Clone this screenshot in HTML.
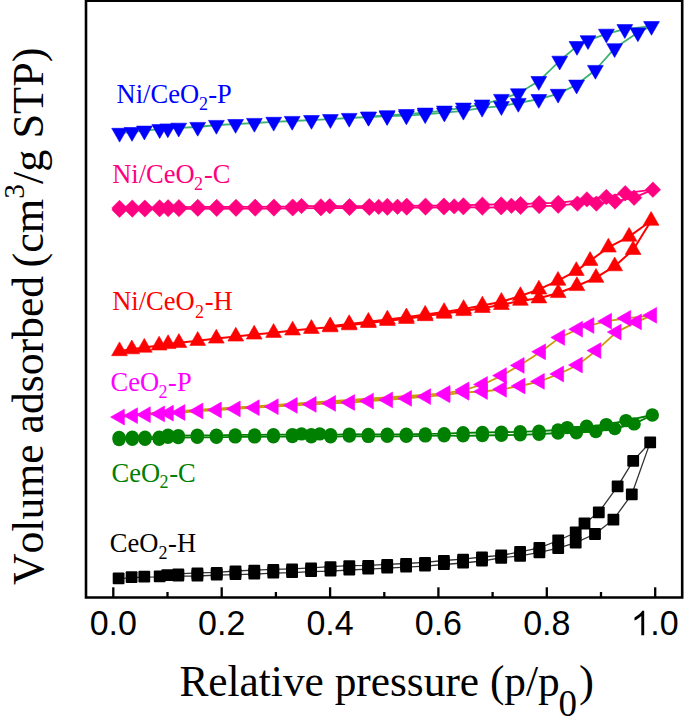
<!DOCTYPE html>
<html><head><meta charset="utf-8"><title>N2 isotherms</title><style>html,body{margin:0;padding:0;background:#fff;width:685px;height:726px;overflow:hidden}svg{display:block}</style></head><body><svg width="685" height="726" viewBox="0 0 685 726"><rect width="685" height="726" fill="#fff"/><polyline points="119.6,132.9 132,132.1 144.4,130.7 159.7,129.2 167.8,128.5 178.7,127.8 197.7,127 216.4,125 235.6,124.1 254.4,123 273.7,121.9 292.2,121 311.5,120.1 330.4,119.2 349.2,118 368.5,117 387.1,116.2 406.4,115.6 425.2,114.4 444.4,112.7 463.4,110.9 482.1,107.9 501.4,106.2 518.3,103 538.8,99.1 558.1,93.9 576.6,84.7 595.4,70 614.6,48.3 637.9,32.5 651.5,26.1" fill="none" stroke="#3cb371" stroke-width="1.8" stroke-linejoin="round"/><polyline points="651.5,26.1 624.8,29.2 606.4,33.8 588,40.3 577,46.1 559.7,60.8 538.8,81.1 518.3,93.4 501.4,99 482.1,104.6 463.4,107.7 444.4,110.7 425.2,112.7 406.4,114.1 387.1,115.3 368.5,116.6" fill="none" stroke="#3cb371" stroke-width="1.8" stroke-linejoin="round"/><polyline points="119.5,209.7 132.3,209.5 144.8,209.4 159.6,209.2 168.1,209.1 178.9,209 197.8,208.7 216.7,208.8 236,208.7 255.2,208.6 273.9,208.5 292.7,208.4 320.9,208.2 349.5,208 369.3,207.9 387.3,207.7 406.7,207.6 425.5,207.5 443.9,207.4 463.4,207.2 482.4,207.5 501.2,207.3 520.6,206.9 539.2,206.1 558.2,205.7 577.4,203.6 596.4,203.6 615,201.5 634.1,197.7 652.9,189.7" fill="none" stroke="#ff0080" stroke-width="1.8" stroke-linejoin="round"/><polyline points="652.9,189.7 625.2,193.2 606.3,197 586.9,199.4 558.2,202.9 539.2,203.3 520.6,204.1 511.4,205.8 501.2,204.5 482.4,204.7 463.4,205.4 454.2,206.4 443.9,205.6 425.5,205.7 406.7,205.8 397.5,206.8 387.3,205.9 378.7,206.9 369.3,206.1 349.5,206.2 329.7,206.2 320.9,206.4 301.5,206 292.7,206.6 273.9,206.7 255.2,206.8 236,206.9 216.7,207 197.8,206.9 178.9,207.2 168.1,207.3 159.6,207.4 144.8,207.6 132.3,207.7 119.5,207.9" fill="none" stroke="#ff0080" stroke-width="1.8" stroke-linejoin="round"/><polyline points="119.5,351.1 131.8,349.2 144.3,347.6 159.1,345.4 168.1,344 178.9,342.8 197.7,340.8 216.3,338.5 235.8,336.5 254.2,334.5 273.6,332.8 292.6,330.4 311.4,328.8 330.2,327.2 349.2,325.2 368.4,322.9 387.4,320.8 406.4,318.8 425.2,316.1 444.1,313.6 463.6,311 482.4,307.9 501.4,304.9 520.4,300.7 538.9,298.3 558.2,293 576.9,286 596,277.7 614.7,266.2 633.1,249.9 651.1,220.7" fill="none" stroke="#ff0000" stroke-width="2" stroke-linejoin="round"/><polyline points="651.1,220.7 629.1,236.6 608.4,247.4 590.1,260.8 576.3,270.9 558,280.7 538.9,289.4 520.4,296 501.4,301.7 482.4,305.4 463.6,308.9 444.1,311.9 425.2,314.6 406.4,317.2 387.4,319.4 368.4,321.7 349.2,324 330.2,326.2" fill="none" stroke="#ff0000" stroke-width="2" stroke-linejoin="round"/><polyline points="119.8,417.1 132.9,415.7 145.7,414.7 159.9,413.9 168.7,413.2 180.3,412.5 198.3,411 216.7,410 235.6,408.9 254.6,407.7 273.6,406.7 292.6,405.4 311.5,404.4 330.9,403.4 350,402.5 368.8,401.1 388,399.9 406.9,398.4 426,396.6 445.3,394.8 464.3,392.3 482.8,391.5 501.8,389.3 520.4,386 539.7,381.4 559,374 577.7,365 596.3,350.6 616.5,332.1 636.8,321.9 652,315.3" fill="none" stroke="#cc9a06" stroke-width="1.8" stroke-linejoin="round"/><polyline points="652,315.3 626.1,318.3 606.9,321.2 589.3,325.5 577.9,329.2 560,337.4 540.9,351.8 519.5,365.4 501.8,375.6 482.8,384.5 464.3,389.9 445.3,393.4 119.8,415.7 132.9,414.3 145.7,413.3 159.9,412.5 168.7,411.8 180.3,411.1 198.3,409.6 216.7,408.6 235.6,407.5 254.6,406.3 273.6,405.3 292.6,404 311.5,403 330.9,402 350,401.1 368.8,399.7 388,398.5 406.9,397 426,395.2" fill="none" stroke="#cc9a06" stroke-width="1.8" stroke-linejoin="round"/><polyline points="119.1,439.5 132.3,439.2 145,439.2 159.2,439.2 168,437.3 178.3,437.6 197.3,437.3 216.4,437.3 235.2,436.9 254.6,436.9 273.4,436.7 292.4,436.6 311.3,436.7 330.6,436.8 349.3,436.1 368.3,436.4 387.3,436.3 406.3,436.3 425.3,435.9 444.1,435.7 463.1,435.8 482.4,435.5 501.4,435.2 520.2,434.8 539,434.2 558,433 576.4,432.7 595.8,431.5 614.8,428.5 634.1,423.9 652.3,415" fill="none" stroke="#008000" stroke-width="1.8" stroke-linejoin="round"/><polyline points="652.3,415 626,420.6 606.3,424.6 586.6,426.3 567.2,427.6 558,430 539,431.2 520.2,431.8 501.4,432.2 482.4,432.5 463.1,432.8 444.1,433.7 425.3,433.9 406.3,434.3 387.3,434.3 368.3,434.4 349.3,434.1 330.6,434.8 319.7,433.9 311.3,434.7 301.5,433.9 292.4,434.6 273.4,434.7 254.6,434.9 235.2,434.9 216.4,435.3 197.3,435.3 178.3,435.6 168,435.3 159.2,437.2 145,437.2 132.3,437.2 119.1,437.5" fill="none" stroke="#008000" stroke-width="1.8" stroke-linejoin="round"/><polyline points="118.6,578.8 131.6,577.7 144.3,577.1 159.7,576.8 167.3,575.7 178.3,576.1 197.4,576 216.7,575.1 235.5,574.7 254.3,574.1 273.3,573.1 292.1,572.7 311.1,571.7 330.5,571.1 349.3,570 368.2,569.2 387.2,568.2 406.1,567.2 425,566.2 443.9,564.5 463.1,563 482,561 501.2,557.8 520.1,555.8 539.4,552.3 558.2,548.2 575.7,542.7 595,534 613.4,519.6 631.8,494.3 650.2,442.4" fill="none" stroke="#333333" stroke-width="1.3" stroke-linejoin="round"/><polyline points="650.2,442.4 633.2,460.8 617.6,486.4 598.8,512.3 584.5,523.5 575.7,532.5 558.2,540.5 539.4,547.8 520.1,551.9 501.2,555.3 482,557 463.1,559.2 443.9,560.5 425,562.3 406.1,563.5 387.2,564.3 368.2,565.3 349.3,565.7 330.5,566.7 311.1,567.8 292.1,568.8 273.3,569.4 254.3,570.2 235.5,571 216.7,572.4 197.4,572.9 178.3,573.8" fill="none" stroke="#333333" stroke-width="1.3" stroke-linejoin="round"/><g fill="#0000ff" stroke="#0000ff" stroke-width="0.6" stroke-linejoin="round"><polygon points="111.7,128.3 127.5,128.3 119.6,142.1"/><polygon points="124.1,127.5 139.9,127.5 132,141.3"/><polygon points="136.5,126.1 152.3,126.1 144.4,139.9"/><polygon points="151.8,124.6 167.6,124.6 159.7,138.4"/><polygon points="159.9,123.9 175.7,123.9 167.8,137.7"/><polygon points="170.8,123.2 186.6,123.2 178.7,137"/><polygon points="189.8,122.4 205.6,122.4 197.7,136.2"/><polygon points="208.5,120.4 224.3,120.4 216.4,134.2"/><polygon points="227.7,119.5 243.5,119.5 235.6,133.3"/><polygon points="246.5,118.4 262.3,118.4 254.4,132.2"/><polygon points="265.8,117.3 281.6,117.3 273.7,131.1"/><polygon points="284.3,116.4 300.1,116.4 292.2,130.2"/><polygon points="303.6,115.5 319.4,115.5 311.5,129.3"/><polygon points="322.5,114.6 338.3,114.6 330.4,128.4"/><polygon points="341.3,113.4 357.1,113.4 349.2,127.2"/><polygon points="360.6,112.4 376.4,112.4 368.5,126.2"/><polygon points="379.2,111.6 395,111.6 387.1,125.4"/><polygon points="398.5,111 414.3,111 406.4,124.8"/><polygon points="417.3,109.8 433.1,109.8 425.2,123.6"/><polygon points="436.5,108.1 452.3,108.1 444.4,121.9"/><polygon points="455.5,106.3 471.3,106.3 463.4,120.1"/><polygon points="474.2,103.3 490,103.3 482.1,117.1"/><polygon points="493.5,101.6 509.3,101.6 501.4,115.4"/><polygon points="510.4,98.4 526.2,98.4 518.3,112.2"/><polygon points="530.9,94.5 546.7,94.5 538.8,108.3"/><polygon points="550.2,89.3 566,89.3 558.1,103.1"/><polygon points="568.7,80.1 584.5,80.1 576.6,93.9"/><polygon points="587.5,65.4 603.3,65.4 595.4,79.2"/><polygon points="606.7,43.7 622.5,43.7 614.6,57.5"/><polygon points="630,27.9 645.8,27.9 637.9,41.7"/><polygon points="643.6,21.5 659.4,21.5 651.5,35.3"/><polygon points="616.9,24.6 632.7,24.6 624.8,38.4"/><polygon points="598.5,29.2 614.3,29.2 606.4,43"/><polygon points="580.1,35.7 595.9,35.7 588,49.5"/><polygon points="569.1,41.5 584.9,41.5 577,55.3"/><polygon points="551.8,56.2 567.6,56.2 559.7,70"/><polygon points="530.9,76.5 546.7,76.5 538.8,90.3"/><polygon points="510.4,88.8 526.2,88.8 518.3,102.6"/><polygon points="493.5,94.4 509.3,94.4 501.4,108.2"/><polygon points="474.2,100 490,100 482.1,113.8"/><polygon points="455.5,103.1 471.3,103.1 463.4,116.9"/><polygon points="436.5,106.1 452.3,106.1 444.4,119.9"/><polygon points="417.3,108.1 433.1,108.1 425.2,121.9"/><polygon points="398.5,109.5 414.3,109.5 406.4,123.3"/><polygon points="379.2,110.7 395,110.7 387.1,124.5"/><polygon points="360.6,112 376.4,112 368.5,125.8"/></g><g fill="#ff0080" stroke="#ff0080" stroke-width="0.6" stroke-linejoin="round"><polygon points="119.5,202 127.2,209.7 119.5,217.4 111.8,209.7"/><polygon points="132.3,201.8 140,209.5 132.3,217.2 124.6,209.5"/><polygon points="144.8,201.7 152.5,209.4 144.8,217.1 137.1,209.4"/><polygon points="159.6,201.5 167.3,209.2 159.6,216.9 151.9,209.2"/><polygon points="168.1,201.4 175.8,209.1 168.1,216.8 160.4,209.1"/><polygon points="178.9,201.3 186.6,209 178.9,216.7 171.2,209"/><polygon points="197.8,201 205.5,208.7 197.8,216.4 190.1,208.7"/><polygon points="216.7,201.1 224.4,208.8 216.7,216.5 209,208.8"/><polygon points="236,201 243.7,208.7 236,216.4 228.3,208.7"/><polygon points="255.2,200.9 262.9,208.6 255.2,216.3 247.5,208.6"/><polygon points="273.9,200.8 281.6,208.5 273.9,216.2 266.2,208.5"/><polygon points="292.7,200.7 300.4,208.4 292.7,216.1 285,208.4"/><polygon points="320.9,200.5 328.6,208.2 320.9,215.9 313.2,208.2"/><polygon points="349.5,200.3 357.2,208 349.5,215.7 341.8,208"/><polygon points="369.3,200.2 377,207.9 369.3,215.6 361.6,207.9"/><polygon points="387.3,200 395,207.7 387.3,215.4 379.6,207.7"/><polygon points="406.7,199.9 414.4,207.6 406.7,215.3 399,207.6"/><polygon points="425.5,199.8 433.2,207.5 425.5,215.2 417.8,207.5"/><polygon points="443.9,199.7 451.6,207.4 443.9,215.1 436.2,207.4"/><polygon points="463.4,199.5 471.1,207.2 463.4,214.9 455.7,207.2"/><polygon points="482.4,199.8 490.1,207.5 482.4,215.2 474.7,207.5"/><polygon points="501.2,199.6 508.9,207.3 501.2,215 493.5,207.3"/><polygon points="520.6,199.2 528.3,206.9 520.6,214.6 512.9,206.9"/><polygon points="539.2,198.4 546.9,206.1 539.2,213.8 531.5,206.1"/><polygon points="558.2,198 565.9,205.7 558.2,213.4 550.5,205.7"/><polygon points="577.4,195.9 585.1,203.6 577.4,211.3 569.7,203.6"/><polygon points="596.4,195.9 604.1,203.6 596.4,211.3 588.7,203.6"/><polygon points="615,193.8 622.7,201.5 615,209.2 607.3,201.5"/><polygon points="634.1,190 641.8,197.7 634.1,205.4 626.4,197.7"/><polygon points="652.9,182 660.6,189.7 652.9,197.4 645.2,189.7"/><polygon points="625.2,185.5 632.9,193.2 625.2,200.9 617.5,193.2"/><polygon points="606.3,189.3 614,197 606.3,204.7 598.6,197"/><polygon points="586.9,191.7 594.6,199.4 586.9,207.1 579.2,199.4"/><polygon points="558.2,195.2 565.9,202.9 558.2,210.6 550.5,202.9"/><polygon points="539.2,195.6 546.9,203.3 539.2,211 531.5,203.3"/><polygon points="520.6,196.4 528.3,204.1 520.6,211.8 512.9,204.1"/><polygon points="511.4,198.1 519.1,205.8 511.4,213.5 503.7,205.8"/><polygon points="501.2,196.8 508.9,204.5 501.2,212.2 493.5,204.5"/><polygon points="482.4,197 490.1,204.7 482.4,212.4 474.7,204.7"/><polygon points="463.4,197.7 471.1,205.4 463.4,213.1 455.7,205.4"/><polygon points="454.2,198.7 461.9,206.4 454.2,214.1 446.5,206.4"/><polygon points="443.9,197.9 451.6,205.6 443.9,213.3 436.2,205.6"/><polygon points="425.5,198 433.2,205.7 425.5,213.4 417.8,205.7"/><polygon points="406.7,198.1 414.4,205.8 406.7,213.5 399,205.8"/><polygon points="397.5,199.1 405.2,206.8 397.5,214.5 389.8,206.8"/><polygon points="387.3,198.2 395,205.9 387.3,213.6 379.6,205.9"/><polygon points="378.7,199.2 386.4,206.9 378.7,214.6 371,206.9"/><polygon points="369.3,198.4 377,206.1 369.3,213.8 361.6,206.1"/><polygon points="349.5,198.5 357.2,206.2 349.5,213.9 341.8,206.2"/><polygon points="329.7,198.5 337.4,206.2 329.7,213.9 322,206.2"/><polygon points="320.9,198.7 328.6,206.4 320.9,214.1 313.2,206.4"/><polygon points="301.5,198.3 309.2,206 301.5,213.7 293.8,206"/><polygon points="292.7,198.9 300.4,206.6 292.7,214.3 285,206.6"/><polygon points="273.9,199 281.6,206.7 273.9,214.4 266.2,206.7"/><polygon points="255.2,199.1 262.9,206.8 255.2,214.5 247.5,206.8"/><polygon points="236,199.2 243.7,206.9 236,214.6 228.3,206.9"/><polygon points="216.7,199.3 224.4,207 216.7,214.7 209,207"/><polygon points="197.8,199.2 205.5,206.9 197.8,214.6 190.1,206.9"/><polygon points="178.9,199.5 186.6,207.2 178.9,214.9 171.2,207.2"/><polygon points="168.1,199.6 175.8,207.3 168.1,215 160.4,207.3"/><polygon points="159.6,199.7 167.3,207.4 159.6,215.1 151.9,207.4"/><polygon points="144.8,199.9 152.5,207.6 144.8,215.3 137.1,207.6"/><polygon points="132.3,200 140,207.7 132.3,215.4 124.6,207.7"/><polygon points="119.5,200.2 127.2,207.9 119.5,215.6 111.8,207.9"/></g><g fill="#ff0000" stroke="#ff0000" stroke-width="0.6" stroke-linejoin="round"><polygon points="111.6,355.7 127.4,355.7 119.5,341.9"/><polygon points="123.9,353.8 139.7,353.8 131.8,340"/><polygon points="136.4,352.2 152.2,352.2 144.3,338.4"/><polygon points="151.2,350 167,350 159.1,336.2"/><polygon points="160.2,348.6 176,348.6 168.1,334.8"/><polygon points="171,347.4 186.8,347.4 178.9,333.6"/><polygon points="189.8,345.4 205.6,345.4 197.7,331.6"/><polygon points="208.4,343.1 224.2,343.1 216.3,329.3"/><polygon points="227.9,341.1 243.7,341.1 235.8,327.3"/><polygon points="246.3,339.1 262.1,339.1 254.2,325.3"/><polygon points="265.7,337.4 281.5,337.4 273.6,323.6"/><polygon points="284.7,335 300.5,335 292.6,321.2"/><polygon points="303.5,333.4 319.3,333.4 311.4,319.6"/><polygon points="322.3,331.8 338.1,331.8 330.2,318"/><polygon points="341.3,329.8 357.1,329.8 349.2,316"/><polygon points="360.5,327.5 376.3,327.5 368.4,313.7"/><polygon points="379.5,325.4 395.3,325.4 387.4,311.6"/><polygon points="398.5,323.4 414.3,323.4 406.4,309.6"/><polygon points="417.3,320.7 433.1,320.7 425.2,306.9"/><polygon points="436.2,318.2 452,318.2 444.1,304.4"/><polygon points="455.7,315.6 471.5,315.6 463.6,301.8"/><polygon points="474.5,312.5 490.3,312.5 482.4,298.7"/><polygon points="493.5,309.5 509.3,309.5 501.4,295.7"/><polygon points="512.5,305.3 528.3,305.3 520.4,291.5"/><polygon points="531,302.9 546.8,302.9 538.9,289.1"/><polygon points="550.3,297.6 566.1,297.6 558.2,283.8"/><polygon points="569,290.6 584.8,290.6 576.9,276.8"/><polygon points="588.1,282.3 603.9,282.3 596,268.5"/><polygon points="606.8,270.8 622.6,270.8 614.7,257"/><polygon points="625.2,254.5 641,254.5 633.1,240.7"/><polygon points="643.2,225.3 659,225.3 651.1,211.5"/><polygon points="621.2,241.2 637,241.2 629.1,227.4"/><polygon points="600.5,252 616.3,252 608.4,238.2"/><polygon points="582.2,265.4 598,265.4 590.1,251.6"/><polygon points="568.4,275.5 584.2,275.5 576.3,261.7"/><polygon points="550.1,285.3 565.9,285.3 558,271.5"/><polygon points="531,294 546.8,294 538.9,280.2"/><polygon points="512.5,300.6 528.3,300.6 520.4,286.8"/><polygon points="493.5,306.3 509.3,306.3 501.4,292.5"/><polygon points="474.5,310 490.3,310 482.4,296.2"/><polygon points="455.7,313.5 471.5,313.5 463.6,299.7"/><polygon points="436.2,316.5 452,316.5 444.1,302.7"/><polygon points="417.3,319.2 433.1,319.2 425.2,305.4"/><polygon points="398.5,321.8 414.3,321.8 406.4,308"/><polygon points="379.5,324 395.3,324 387.4,310.2"/><polygon points="360.5,326.3 376.3,326.3 368.4,312.5"/><polygon points="341.3,328.6 357.1,328.6 349.2,314.8"/><polygon points="322.3,330.8 338.1,330.8 330.2,317"/></g><g fill="#ff00ff" stroke="#ff00ff" stroke-width="0.6" stroke-linejoin="round"><polygon points="124.4,409.2 124.4,425 110.6,417.1"/><polygon points="137.5,407.8 137.5,423.6 123.7,415.7"/><polygon points="150.3,406.8 150.3,422.6 136.5,414.7"/><polygon points="164.5,406 164.5,421.8 150.7,413.9"/><polygon points="173.3,405.3 173.3,421.1 159.5,413.2"/><polygon points="184.9,404.6 184.9,420.4 171.1,412.5"/><polygon points="202.9,403.1 202.9,418.9 189.1,411"/><polygon points="221.3,402.1 221.3,417.9 207.5,410"/><polygon points="240.2,401 240.2,416.8 226.4,408.9"/><polygon points="259.2,399.8 259.2,415.6 245.4,407.7"/><polygon points="278.2,398.8 278.2,414.6 264.4,406.7"/><polygon points="297.2,397.5 297.2,413.3 283.4,405.4"/><polygon points="316.1,396.5 316.1,412.3 302.3,404.4"/><polygon points="335.5,395.5 335.5,411.3 321.7,403.4"/><polygon points="354.6,394.6 354.6,410.4 340.8,402.5"/><polygon points="373.4,393.2 373.4,409 359.6,401.1"/><polygon points="392.6,392 392.6,407.8 378.8,399.9"/><polygon points="411.5,390.5 411.5,406.3 397.7,398.4"/><polygon points="430.6,388.7 430.6,404.5 416.8,396.6"/><polygon points="449.9,386.9 449.9,402.7 436.1,394.8"/><polygon points="468.9,384.4 468.9,400.2 455.1,392.3"/><polygon points="487.4,383.6 487.4,399.4 473.6,391.5"/><polygon points="506.4,381.4 506.4,397.2 492.6,389.3"/><polygon points="525,378.1 525,393.9 511.2,386"/><polygon points="544.3,373.5 544.3,389.3 530.5,381.4"/><polygon points="563.6,366.1 563.6,381.9 549.8,374"/><polygon points="582.3,357.1 582.3,372.9 568.5,365"/><polygon points="600.9,342.7 600.9,358.5 587.1,350.6"/><polygon points="621.1,324.2 621.1,340 607.3,332.1"/><polygon points="641.4,314 641.4,329.8 627.6,321.9"/><polygon points="656.6,307.4 656.6,323.2 642.8,315.3"/><polygon points="630.7,310.4 630.7,326.2 616.9,318.3"/><polygon points="611.5,313.3 611.5,329.1 597.7,321.2"/><polygon points="593.9,317.6 593.9,333.4 580.1,325.5"/><polygon points="582.5,321.3 582.5,337.1 568.7,329.2"/><polygon points="564.6,329.5 564.6,345.3 550.8,337.4"/><polygon points="545.5,343.9 545.5,359.7 531.7,351.8"/><polygon points="524.1,357.5 524.1,373.3 510.3,365.4"/><polygon points="506.4,367.7 506.4,383.5 492.6,375.6"/><polygon points="487.4,376.6 487.4,392.4 473.6,384.5"/><polygon points="468.9,382 468.9,397.8 455.1,389.9"/><polygon points="449.9,385.5 449.9,401.3 436.1,393.4"/></g><g fill="#008000"><circle cx="119.1" cy="439.5" r="6.7"/><circle cx="132.3" cy="439.2" r="6.7"/><circle cx="145" cy="439.2" r="6.7"/><circle cx="159.2" cy="439.2" r="6.7"/><circle cx="168" cy="437.3" r="6.7"/><circle cx="178.3" cy="437.6" r="6.7"/><circle cx="197.3" cy="437.3" r="6.7"/><circle cx="216.4" cy="437.3" r="6.7"/><circle cx="235.2" cy="436.9" r="6.7"/><circle cx="254.6" cy="436.9" r="6.7"/><circle cx="273.4" cy="436.7" r="6.7"/><circle cx="292.4" cy="436.6" r="6.7"/><circle cx="311.3" cy="436.7" r="6.7"/><circle cx="330.6" cy="436.8" r="6.7"/><circle cx="349.3" cy="436.1" r="6.7"/><circle cx="368.3" cy="436.4" r="6.7"/><circle cx="387.3" cy="436.3" r="6.7"/><circle cx="406.3" cy="436.3" r="6.7"/><circle cx="425.3" cy="435.9" r="6.7"/><circle cx="444.1" cy="435.7" r="6.7"/><circle cx="463.1" cy="435.8" r="6.7"/><circle cx="482.4" cy="435.5" r="6.7"/><circle cx="501.4" cy="435.2" r="6.7"/><circle cx="520.2" cy="434.8" r="6.7"/><circle cx="539" cy="434.2" r="6.7"/><circle cx="558" cy="433" r="6.7"/><circle cx="576.4" cy="432.7" r="6.7"/><circle cx="595.8" cy="431.5" r="6.7"/><circle cx="614.8" cy="428.5" r="6.7"/><circle cx="634.1" cy="423.9" r="6.7"/><circle cx="652.3" cy="415" r="6.7"/><circle cx="626" cy="420.6" r="6.7"/><circle cx="606.3" cy="424.6" r="6.7"/><circle cx="586.6" cy="426.3" r="6.7"/><circle cx="567.2" cy="427.6" r="6.7"/><circle cx="558" cy="430" r="6.7"/><circle cx="539" cy="431.2" r="6.7"/><circle cx="520.2" cy="431.8" r="6.7"/><circle cx="501.4" cy="432.2" r="6.7"/><circle cx="482.4" cy="432.5" r="6.7"/><circle cx="463.1" cy="432.8" r="6.7"/><circle cx="444.1" cy="433.7" r="6.7"/><circle cx="425.3" cy="433.9" r="6.7"/><circle cx="406.3" cy="434.3" r="6.7"/><circle cx="387.3" cy="434.3" r="6.7"/><circle cx="368.3" cy="434.4" r="6.7"/><circle cx="349.3" cy="434.1" r="6.7"/><circle cx="330.6" cy="434.8" r="6.7"/><circle cx="319.7" cy="433.9" r="6.7"/><circle cx="311.3" cy="434.7" r="6.7"/><circle cx="301.5" cy="433.9" r="6.7"/><circle cx="292.4" cy="434.6" r="6.7"/><circle cx="273.4" cy="434.7" r="6.7"/><circle cx="254.6" cy="434.9" r="6.7"/><circle cx="235.2" cy="434.9" r="6.7"/><circle cx="216.4" cy="435.3" r="6.7"/><circle cx="197.3" cy="435.3" r="6.7"/><circle cx="178.3" cy="435.6" r="6.7"/><circle cx="168" cy="435.3" r="6.7"/><circle cx="159.2" cy="437.2" r="6.7"/><circle cx="145" cy="437.2" r="6.7"/><circle cx="132.3" cy="437.2" r="6.7"/><circle cx="119.1" cy="437.5" r="6.7"/></g><g fill="#000"><rect x="112.7" y="572.4" width="11.8" height="11.8" rx="1"/><rect x="125.7" y="571.3" width="11.8" height="11.8" rx="1"/><rect x="138.4" y="570.7" width="11.8" height="11.8" rx="1"/><rect x="153.8" y="570.4" width="11.8" height="11.8" rx="1"/><rect x="161.4" y="569.3" width="11.8" height="11.8" rx="1"/><rect x="172.4" y="569.7" width="11.8" height="11.8" rx="1"/><rect x="191.5" y="569.6" width="11.8" height="11.8" rx="1"/><rect x="210.8" y="568.7" width="11.8" height="11.8" rx="1"/><rect x="229.6" y="568.3" width="11.8" height="11.8" rx="1"/><rect x="248.4" y="567.7" width="11.8" height="11.8" rx="1"/><rect x="267.4" y="566.7" width="11.8" height="11.8" rx="1"/><rect x="286.2" y="566.3" width="11.8" height="11.8" rx="1"/><rect x="305.2" y="565.3" width="11.8" height="11.8" rx="1"/><rect x="324.6" y="564.7" width="11.8" height="11.8" rx="1"/><rect x="343.4" y="563.6" width="11.8" height="11.8" rx="1"/><rect x="362.3" y="562.8" width="11.8" height="11.8" rx="1"/><rect x="381.3" y="561.8" width="11.8" height="11.8" rx="1"/><rect x="400.2" y="560.8" width="11.8" height="11.8" rx="1"/><rect x="419.1" y="559.8" width="11.8" height="11.8" rx="1"/><rect x="438" y="558.1" width="11.8" height="11.8" rx="1"/><rect x="457.2" y="556.6" width="11.8" height="11.8" rx="1"/><rect x="476.1" y="554.6" width="11.8" height="11.8" rx="1"/><rect x="495.3" y="551.9" width="11.8" height="11.8" rx="1"/><rect x="514.2" y="549.9" width="11.8" height="11.8" rx="1"/><rect x="533.5" y="546.4" width="11.8" height="11.8" rx="1"/><rect x="552.3" y="542.3" width="11.8" height="11.8" rx="1"/><rect x="569.8" y="536.8" width="11.8" height="11.8" rx="1"/><rect x="589.1" y="528.1" width="11.8" height="11.8" rx="1"/><rect x="607.5" y="513.7" width="11.8" height="11.8" rx="1"/><rect x="625.9" y="488.4" width="11.8" height="11.8" rx="1"/><rect x="644.3" y="436.5" width="11.8" height="11.8" rx="1"/><rect x="627.3" y="454.9" width="11.8" height="11.8" rx="1"/><rect x="611.7" y="480.5" width="11.8" height="11.8" rx="1"/><rect x="592.9" y="506.4" width="11.8" height="11.8" rx="1"/><rect x="578.6" y="517.6" width="11.8" height="11.8" rx="1"/><rect x="569.8" y="526.6" width="11.8" height="11.8" rx="1"/><rect x="552.3" y="534.6" width="11.8" height="11.8" rx="1"/><rect x="533.5" y="541.9" width="11.8" height="11.8" rx="1"/><rect x="514.2" y="546" width="11.8" height="11.8" rx="1"/><rect x="495.3" y="549.4" width="11.8" height="11.8" rx="1"/><rect x="476.1" y="551.6" width="11.8" height="11.8" rx="1"/><rect x="457.2" y="553.8" width="11.8" height="11.8" rx="1"/><rect x="438" y="555.1" width="11.8" height="11.8" rx="1"/><rect x="419.1" y="556.9" width="11.8" height="11.8" rx="1"/><rect x="400.2" y="558.1" width="11.8" height="11.8" rx="1"/><rect x="381.3" y="558.9" width="11.8" height="11.8" rx="1"/><rect x="362.3" y="559.9" width="11.8" height="11.8" rx="1"/><rect x="343.4" y="560.3" width="11.8" height="11.8" rx="1"/><rect x="324.6" y="561.3" width="11.8" height="11.8" rx="1"/><rect x="305.2" y="562.4" width="11.8" height="11.8" rx="1"/><rect x="286.2" y="563.4" width="11.8" height="11.8" rx="1"/><rect x="267.4" y="564" width="11.8" height="11.8" rx="1"/><rect x="248.4" y="564.8" width="11.8" height="11.8" rx="1"/><rect x="229.6" y="565.6" width="11.8" height="11.8" rx="1"/><rect x="210.8" y="567" width="11.8" height="11.8" rx="1"/><rect x="191.5" y="567.5" width="11.8" height="11.8" rx="1"/><rect x="172.4" y="568.4" width="11.8" height="11.8" rx="1"/></g><g stroke="#000" stroke-width="2.3"><line x1="113.3" y1="587.3" x2="113.3" y2="597" /><line x1="167.5" y1="592" x2="167.5" y2="597" /><line x1="221.7" y1="587.3" x2="221.7" y2="597" /><line x1="275.9" y1="592" x2="275.9" y2="597" /><line x1="330.1" y1="587.3" x2="330.1" y2="597" /><line x1="384.3" y1="592" x2="384.3" y2="597" /><line x1="438.4" y1="587.3" x2="438.4" y2="597" /><line x1="492.6" y1="592" x2="492.6" y2="597" /><line x1="546.8" y1="587.3" x2="546.8" y2="597" /><line x1="601" y1="592" x2="601" y2="597" /><line x1="655.2" y1="587.3" x2="655.2" y2="597" /></g><path d="M86,0.7 H682.2 V597.5 H86 Z" fill="none" stroke="#000" stroke-width="2.6" stroke-linejoin="miter"/><g font-family="Liberation Sans" font-size="34" fill="#000"><text transform="translate(113.3,635.3) scale(1,1.05)" x="0" y="0" text-anchor="middle">0.0</text><text transform="translate(221.7,635.3) scale(1,1.05)" x="0" y="0" text-anchor="middle">0.2</text><text transform="translate(330.1,635.3) scale(1,1.05)" x="0" y="0" text-anchor="middle">0.4</text><text transform="translate(438.4,635.3) scale(1,1.05)" x="0" y="0" text-anchor="middle">0.6</text><text transform="translate(546.8,635.3) scale(1,1.05)" x="0" y="0" text-anchor="middle">0.8</text><text transform="translate(650.2,635.3) scale(1,1.05)" x="0" y="0">.0</text><path d="M644.2,635.2 L644.2,610.8 L642.2,610.8 C640.6,613.4 637.6,615.9 634.5,617.4 L634.5,620.4 C637,619.4 639.5,617.7 641.3,615.9 L641.3,635.2 Z"/></g><g font-family="Liberation Serif" font-size="26.5"><g fill="#0000ff"><text x="116.6" y="102.8">Ni/CeO</text><text x="198.9" y="109.6" font-size="18">2</text><text x="208.3" y="102.8">-P</text></g><g fill="#ff0080"><text x="112.2" y="183.0">Ni/CeO</text><text x="193.9" y="190.0" font-size="18">2</text><text x="203.9" y="183.0">-C</text></g><g fill="#ff0000"><text x="112.2" y="309.8">Ni/CeO</text><text x="194.9" y="317.6" font-size="18">2</text><text x="204.8" y="309.8">-H</text></g><g fill="#ff00ff"><text x="110.6" y="391.3">CeO</text><text x="158.5" y="397.6" font-size="18">2</text><text x="168.1" y="391.3">-P</text></g><g fill="#008000"><text x="111.6" y="482.0">CeO</text><text x="159.5" y="488.0" font-size="18">2</text><text x="169.2" y="482.0">-C</text></g><g fill="#000000"><text x="109.8" y="551.6">CeO</text><text x="158.4" y="558.6" font-size="18">2</text><text x="168.1" y="551.6">-H</text></g></g><g font-family="Liberation Serif" fill="#000"><text transform="translate(179.4,695.5) scale(0.9635,1)" x="0" y="0" font-size="45">Relative pressure (p/p</text><text x="558.6" y="715.5" font-size="37">0</text><text x="579.1" y="695.5" font-size="45">)</text></g><g font-family="Liberation Serif" font-size="45" fill="#000" style="font-kerning:none"><text transform="translate(42.8,585) rotate(-90) scale(0.970,1)" x="0" y="0">Volume adsorbed</text><text transform="translate(42.8,267.6) rotate(-90) scale(0.984,1)" x="0" y="0">(cm<tspan font-size="30" dy="-18.7">3</tspan><tspan dy="18.7">/g STP)</tspan></text></g></svg></body></html>
